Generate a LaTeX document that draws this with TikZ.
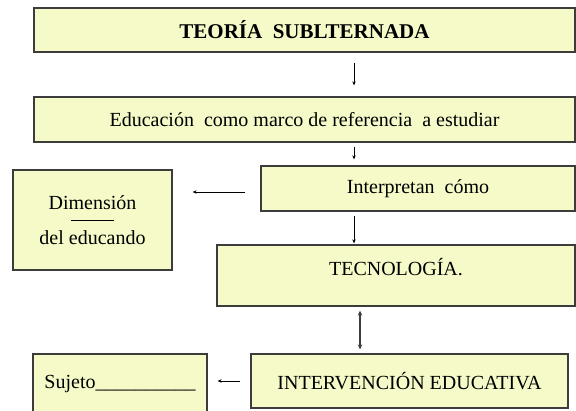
\documentclass[tikz,border=0pt]{standalone}
\usepackage{fontspec}
\setmainfont{Liberation Serif}
\usetikzlibrary{arrows.meta}
\definecolor{boxfill}{RGB}{245,250,200}
\definecolor{boxline}{RGB}{60,60,60}
\tikzset{
  box/.style={draw=boxline, line width=1.3pt, fill=boxfill, inner sep=0pt,
    font=\fontsize{20}{24}\selectfont},
  arr/.style={draw=black, line width=0.8pt, -{Stealth[length=4pt,width=3.5pt]}},
  dbl/.style={draw=boxline, line width=1.2pt,
    {Stealth[length=5pt,width=4.5pt]}-{Stealth[length=5pt,width=4.5pt]}},
}
\begin{document}
\begin{tikzpicture}[x=1pt,y=-1pt]
\useasboundingbox (0,0) rectangle (576,410);
\node[box, minimum width=541pt, minimum height=44pt, font=\fontsize{21}{24}\selectfont\bfseries] (teoria) at (304.5,30) {TEORÍA\ \ SUBLTERNADA};
\node[box, minimum width=541pt, minimum height=45pt] (educ) at (304.5,119.5) {Educación\ \ como marco de referencia\ \ a estudiar};
\node[box, minimum width=314pt, minimum height=45pt] (interp) at (418,188.5) {Interpretan\ \ cómo};
\node[box, minimum width=159pt, minimum height=100pt, align=center, font=\fontsize{20}{17.5}\selectfont] (dim) at (92.5,220) {Dimensión\\\rule[6pt]{43pt}{0.8pt}\\del educando};
\node[box, minimum width=358pt, text height=30pt, text depth=31pt] (tec) at (396,275.5) {TECNOLOGÍA.};
\node[box, minimum width=317pt, minimum height=54pt] (interv) at (409.5,381) {INTERVENCIÓN\ EDUCATIVA};
\node[box, minimum width=174pt, minimum height=60pt] (suj) at (120,384) {Sujeto\_\_\_\_\_\_\_\_\_\_};

\coordinate (c1) at (354,0);
\coordinate (c2) at (0,192);
\coordinate (c3) at (360,0);
\draw[arr, shorten <=10pt, shorten >=11pt] (teoria.south -| c1) -- (educ.north -| c1);
\draw[arr, shorten <=4pt, shorten >=6pt] (educ.south -| c1) -- (interp.north -| c1);
\draw[arr, shorten <=4pt, shorten >=1pt] (interp.south -| c1) -- (tec.north -| c1);
\draw[arr, shorten <=15pt, shorten >=20pt] (interp.west |- c2) -- (dim.east |- c2);
\draw[dbl, shorten <=4pt, shorten >=4pt] (tec.south -| c3) -- (interv.north -| c3);
\draw[arr, shorten <=10pt, shorten >=10pt] (interv.west) -- (suj.east |- interv.west);
\end{tikzpicture}
\end{document}
